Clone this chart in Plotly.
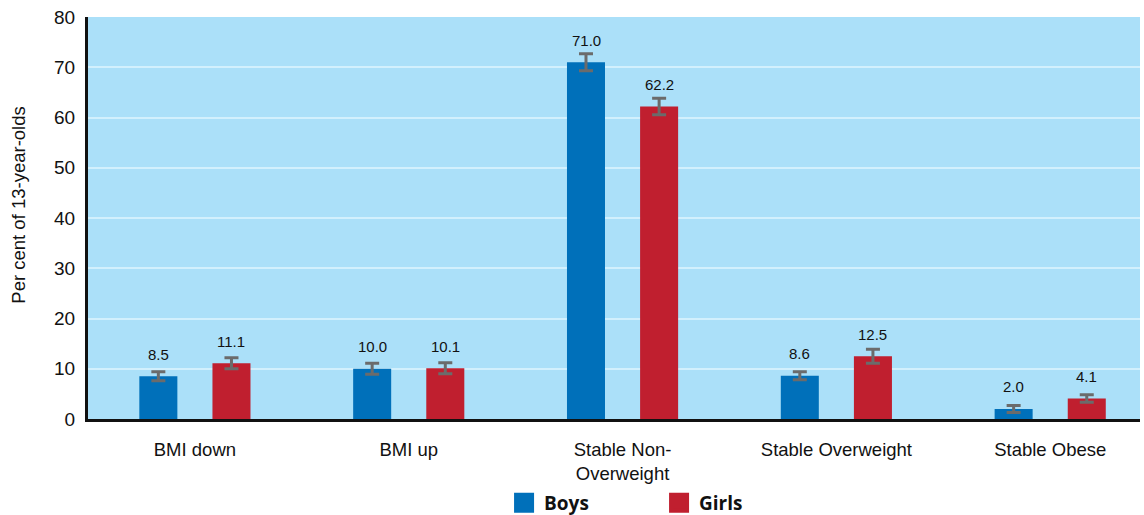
import plotly.graph_objects as go

# data
categories = ["BMI down", "BMI up", "Stable Non-<br>Overweight", "Stable Overweight", "Stable Obese"]
boys = [8.5, 10.0, 71.0, 8.6, 2.0]
girls = [11.1, 10.1, 62.2, 12.5, 4.1]
boys_err = [0.9, 1.1, 1.7, 0.8, 0.7]
girls_err = [1.1, 1.1, 1.65, 1.4, 0.75]

BLUE = "#0070ba"
RED = "#c01f2f"
BG = "#abe0f9"
ERR = "#6b6b6b"
FONT = "Liberation Sans, Arial, sans-serif"

fig = go.Figure()

for name, vals, errs, col in [("Boys", boys, boys_err, BLUE), ("Girls", girls, girls_err, RED)]:
    fig.add_trace(go.Bar(
        x=categories, y=vals, name=name, marker=dict(color=col, line=dict(width=0)),
        error_y=dict(type="data", array=errs, visible=True, color=ERR, thickness=3, width=7),
        showlegend=False, hoverinfo="x+y"
    ))

# legend swatches
for name, col in [("Boys", BLUE), ("Girls", RED)]:
    fig.add_trace(go.Scatter(
        x=[None], y=[None], mode="markers", name=name,
        marker=dict(symbol="square", size=16, color=col, line=dict(color=col, width=4))
    ))

# value labels above bars
for vals, shift in [(boys, -36.5), (girls, 36.5)]:
    for c, v in zip(categories, vals):
        fig.add_annotation(
            x=c, y=v, text=f"{v:.1f}", showarrow=False,
            xshift=shift, yshift=22, yanchor="middle",
            font=dict(size=15, color="#111111", family=FONT)
        )

# y axis title (sits a little above the plot centre in the original)
fig.add_annotation(
    xref="paper", yref="paper", x=-0.066, y=0.532, text="Per cent of 13-year-olds",
    textangle=-90, showarrow=False, xanchor="center", yanchor="middle",
    font=dict(size=18.5, color="#111111", family=FONT)
)

fig.update_layout(
    width=1144, height=515,
    margin=dict(l=88, r=4, t=17, b=96, autoexpand=False),
    paper_bgcolor="white", plot_bgcolor=BG,
    barmode="group", bargap=0.316, bargroupgap=0.48,
    font=dict(family=FONT, size=16, color="#111111"),
    legend=dict(
        orientation="h", x=0.3955, xanchor="left", y=-0.209, yanchor="middle",
        itemsizing="trace", entrywidth=110, entrywidthmode="pixels",
        font=dict(size=19, family="Open Sans, Liberation Sans, sans-serif", color="#111111", weight="bold"),
        bgcolor="rgba(0,0,0,0)"
    ),
    xaxis=dict(
        range=[-0.5, 4.42],
        showline=True, linecolor="#111111", linewidth=3, ticks="", automargin=False,
        ticklabelstandoff=12, tickfont=dict(size=18.5), showgrid=False
    ),
    yaxis=dict(
        range=[0, 80], dtick=10, showline=True, linecolor="#111111", linewidth=3,
        ticks="", ticklabelstandoff=6, tickfont=dict(size=19), automargin=False,
        gridcolor="#d2f0fd", gridwidth=1.5, zeroline=False
    ),
)

fig.write_html(
    "out.html",
    config={"displayModeBar": False},
    post_script="document.body.style.margin='0';document.body.style.overflow='hidden';",
)
